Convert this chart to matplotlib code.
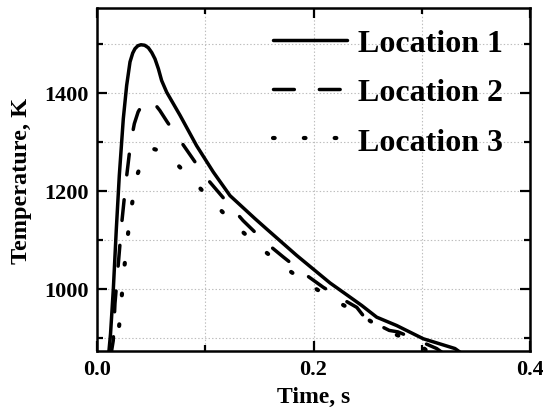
import matplotlib
matplotlib.use("Agg")
import matplotlib.pyplot as plt
from matplotlib.ticker import MultipleLocator, FormatStrFormatter

plt.rcParams['font.family'] = ['Liberation Serif', 'DejaVu Serif']
plt.rcParams['font.weight'] = 'bold'
plt.rcParams['lines.scale_dashes'] = False

# Location 1 (solid)
t1 = [0.0105, 0.0125, 0.0151, 0.0178, 0.0206, 0.0243, 0.0274, 0.0305, 0.0330, 0.0351,
      0.0378, 0.0406, 0.0440, 0.0474, 0.0506, 0.0536, 0.0567, 0.0597, 0.0644, 0.0767,
      0.092, 0.1075, 0.1229, 0.146, 0.1567, 0.1845, 0.2152, 0.2337, 0.2445, 0.2584,
      0.2768, 0.3014, 0.3307, 0.337]
T1 = [860, 908, 1000, 1120, 1231, 1347, 1415, 1463, 1481, 1490,
      1496, 1498, 1497, 1492, 1482, 1469, 1449, 1425, 1401, 1354,
      1292, 1238, 1190, 1143, 1122, 1068, 1012, 983, 966, 942,
      925, 898, 878, 868]

# Location 2 (dashed)
t2 = [0.0125, 0.015, 0.0166, 0.0197, 0.0228, 0.0266, 0.031, 0.0345, 0.038, 0.043,
      0.047, 0.052, 0.058, 0.065, 0.0767, 0.0905, 0.103, 0.12, 0.135, 0.155,
      0.172, 0.192, 0.209, 0.229, 0.24, 0.246, 0.261, 0.27, 0.278, 0.289,
      0.3076, 0.3138, 0.32]
T2 = [860, 894, 970, 1051, 1133, 1215, 1297, 1337, 1361, 1380,
      1385, 1381, 1364, 1340, 1303, 1259, 1221, 1177, 1139, 1096,
      1065, 1030, 1003, 976, 962, 945, 925, 915, 912, 902,
      884, 878, 868]

# Location 3 (dotted)
t3 = [0.016, 0.019, 0.0212, 0.023, 0.0249, 0.0274, 0.0298, 0.033, 0.0376, 0.042,
      0.0468, 0.053, 0.060, 0.0674, 0.089, 0.11, 0.1315, 0.153, 0.175, 0.197,
      0.219, 0.2423, 0.2636, 0.2855, 0.301, 0.308]
T3 = [862, 892, 941, 988, 1037, 1086, 1135, 1182, 1235, 1263,
      1280, 1285, 1280, 1269, 1220, 1170, 1122, 1080, 1041, 1007,
      977, 949, 918, 898, 880, 868]

labels = ['Location 1', 'Location 2', 'Location 3']

fig = plt.figure(figsize=(5.43, 4.10), dpi=100)
ax = fig.add_axes([97/543, 1 - 352/410, 433/543, 343/410])

lw = 2.5
ax.plot(t1, T1, color='black', lw=lw, solid_capstyle='round', solid_joinstyle='round', label=labels[0])
ax.plot(t2, T2, color='black', lw=lw, dashes=(15, 18), dash_capstyle='round', dash_joinstyle='round', label=labels[1])
ax.plot(t3, T3, color='black', lw=lw + 0.5, dashes=(1.2, 21), dash_capstyle='round', label=labels[2])

ax.set_xlim(0, 0.4)
ax.set_ylim(873, 1573)
ax.xaxis.set_major_locator(MultipleLocator(0.2))
ax.xaxis.set_minor_locator(MultipleLocator(0.1))
ax.yaxis.set_major_locator(MultipleLocator(200))
ax.yaxis.set_minor_locator(MultipleLocator(100))
ax.xaxis.set_major_formatter(FormatStrFormatter('%.1f'))

ax.grid(True, which='both', color='#bdbdbd', linestyle=(0, (1, 1.5)), lw=0.8)
ax.set_axisbelow(True)

ax.tick_params(which='both', direction='in', top=True, right=True, width=1.6,
               labelsize=16, pad=6)
ax.tick_params(which='major', length=7)
ax.tick_params(which='minor', length=4)
for lab in ax.get_xticklabels() + ax.get_yticklabels():
    lab.set_fontweight('bold')
for s in ax.spines.values():
    s.set_linewidth(1.8)

ax.set_xlabel('Time, s', fontsize=17, fontweight='bold', labelpad=5)
ax.set_ylabel('Temperature, K', fontsize=17.5, fontweight='bold', labelpad=9)

leg = ax.legend(loc='upper right', bbox_to_anchor=(0.982, 0.995), frameon=False,
                prop={'size': 23, 'weight': 'bold'}, handlelength=2.3,
                handletextpad=0.35, labelspacing=0.62, borderaxespad=0.2)

fig.savefig('out.png', dpi=100)
